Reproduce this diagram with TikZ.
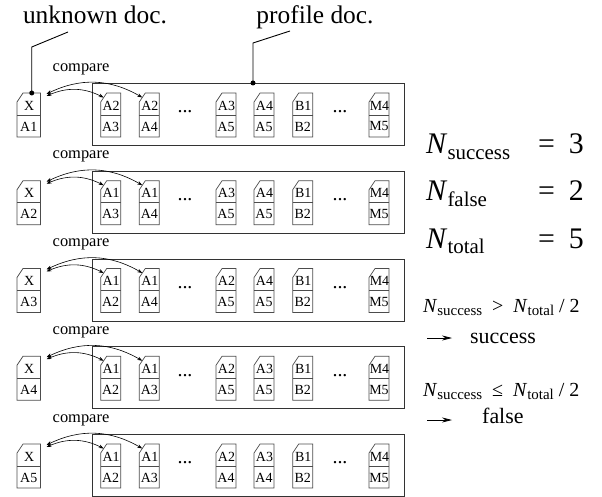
\documentclass[tikz,border=0pt]{standalone}
\usepackage{fontspec}
\setmainfont{Liberation Serif}
\usetikzlibrary{arrows.meta,calc,positioning}

\tikzset{
  frame/.style={draw=black!80,line width=1pt,inner sep=0pt},
  sheetline/.style={draw=black!70,line width=.7pt},
  sheettxt/.style={inner sep=0pt,font=\fontsize{14}{14}\selectfont},
  cmplbl/.style={inner sep=0pt,font=\fontsize{16.5}{16.5}\selectfont},
  toplbl/.style={inner sep=0pt,anchor=base,font=\fontsize{25.5}{25.5}\selectfont},
  dots/.style={inner sep=0pt,font=\fontsize{20}{20}\selectfont},
  cmp/.style={{Stealth[length=5pt,width=3.5pt]}-{Stealth[length=5pt,width=3.5pt]},line width=.6pt},
  lead/.style={line width=.9pt},
  cnt/.style={anchor=base west,inner sep=0pt,font=\fontsize{30}{30}\selectfont},
  rulelbl/.style={anchor=base west,inner sep=0pt,font=\fontsize{20}{20}\selectfont},
  verdict/.style={anchor=base west,inner sep=0pt,font=\fontsize{22}{22}\selectfont},
  verdictarrow/.style={-{Stealth[length=10pt,width=5pt]},line width=.8pt},
}

% one document: #1 name, #2 left x, #3 top y, #4 width, #5 upper, #6 lower
\newcommand{\sheet}[6]{%
  \draw[sheetline] (#2,#3+9) -- ++(6,-9) -- (#2+#4,#3) -- (#2+#4,#3+44) -- (#2,#3+44) -- cycle;
  \draw[sheetline] (#2,#3+22) -- (#2+#4,#3+22);
  \node[sheettxt] (#1u) at (#2+#4/2+.5,#3+12.5) {#5};
  \node[sheettxt] (#1l) at (#2+#4/2,#3+33.5) {#6};
  \coordinate (#1c) at (#2+3,#3+4.5);
  \coordinate (#1t) at (#2+#4/2+3,#3);
  \coordinate (#1e) at (#2+#4+6,#3+1);
  \coordinate (#1f) at (#2+#4+6,#3+3);
}
\newcommand{\Nbig}[1]{\textit{N}\raisebox{-6pt}{\fontsize{21}{21}\selectfont #1}}
\newcommand{\Nsmall}[1]{\textit{N}\raisebox{-3.5pt}{\fontsize{15}{15}\selectfont #1}}

\begin{document}
\begin{tikzpicture}[x=1bp,y=-1bp]
  \useasboundingbox (0,0) rectangle (602,497);

  % rows of comparisons
  \foreach \i/\q/\ua/\la/\ub/\lb/\uc/\lc/\ud/\ld in {
      0/A1/A2/A3/A2/A4/A3/A5/A4/A5,
      1/A2/A1/A3/A1/A4/A3/A5/A4/A5,
      2/A3/A1/A2/A1/A4/A2/A5/A4/A5,
      3/A4/A1/A2/A1/A3/A2/A5/A3/A5,
      4/A5/A1/A2/A1/A3/A2/A4/A3/A4}{
    \pgfmathsetmacro\T{83+87.75*\i}
    \node[frame,anchor=north west,minimum width=312bp,minimum height=62bp] (box\i) at (92,\T) {};
    \node[cmplbl] (cmp\i) at (81,\T-14) {compare};
    \sheet{q\i}{17}{\T+10}{23.5}{X}{\q}
    \sheet{pa\i}{100.7}{\T+10}{20}{\ua}{\la}
    \sheet{pb\i}{139.3}{\T+10}{20}{\ub}{\lb}
    \sheet{pc\i}{216}{\T+10}{20}{\uc}{\lc}
    \sheet{pd\i}{254}{\T+10}{20}{\ud}{\ld}
    \sheet{pe\i}{292.7}{\T+10}{20}{B1}{B2}
    \sheet{pm\i}{369}{\T+10}{20}{M4}{M5}
    \node[dots] (dl\i) at (185,\T+29) {...};
    \node[dots] (dr\i) at (340,\T+29) {...};
    \draw[cmp] (q\i e) to[bend left=28] (pb\i c);
    \draw[cmp] (q\i f) to[bend left=25] (pa\i c);
  }

  % labels on top
  \node[toplbl] (unk) at (95,24) {unknown doc.};
  \node[toplbl] (prof) at (315,24) {profile doc.};
  \coordinate (unkfoot) at (68,32);
  \coordinate (unkbend) at (q0t |- 0,47);
  \draw[lead] (unkfoot) -- (unkbend) -- (q0t);
  \fill (q0t) circle (2.5bp);
  \coordinate (proffoot) at (290,31);
  \coordinate (profdot) at ($(box0.north west)+(161,0)$);
  \coordinate (profbend) at (profdot |- 0,43);
  \draw[lead] (proffoot) -- (profbend) -- (profdot);
  \fill (profdot) circle (2.5bp);

  % counts
  \node[cnt] (nsucc) at (426,154) {\Nbig{success}};
  \node[cnt] (vsucc) at (538,154) {=\hspace{14pt}3};
  \node[cnt] (nfalse) at (426,201) {\Nbig{false}};
  \node[cnt] (vfalse) at (538,201) {=\hspace{14pt}2};
  \node[cnt] (ntotal) at (426,248) {\Nbig{total}};
  \node[cnt] (vtotal) at (538,248) {=\hspace{14pt}5};

  % decision rules
  \node[rulelbl] (rule1) at (423,312) {\Nsmall{success}\hspace{10pt}>\hspace{10pt}\Nsmall{total}\hspace{5pt}/\hspace{5pt}2};
  \node[verdict] (res1) at (470,343) {success};
  \coordinate (r1s) at (427,338);
  \coordinate (r1e) at (452,338);
  \draw[verdictarrow] (r1s) -- (r1e);
  \node[rulelbl] (rule2) at (423,396) {\Nsmall{success}\hspace{10pt}≤\hspace{10pt}\Nsmall{total}\hspace{5pt}/\hspace{5pt}2};
  \node[verdict] (res2) at (482,423) {false};
  \coordinate (r2s) at (427,420);
  \coordinate (r2e) at (452,420);
  \draw[verdictarrow] (r2s) -- (r2e);
\end{tikzpicture}
\end{document}
